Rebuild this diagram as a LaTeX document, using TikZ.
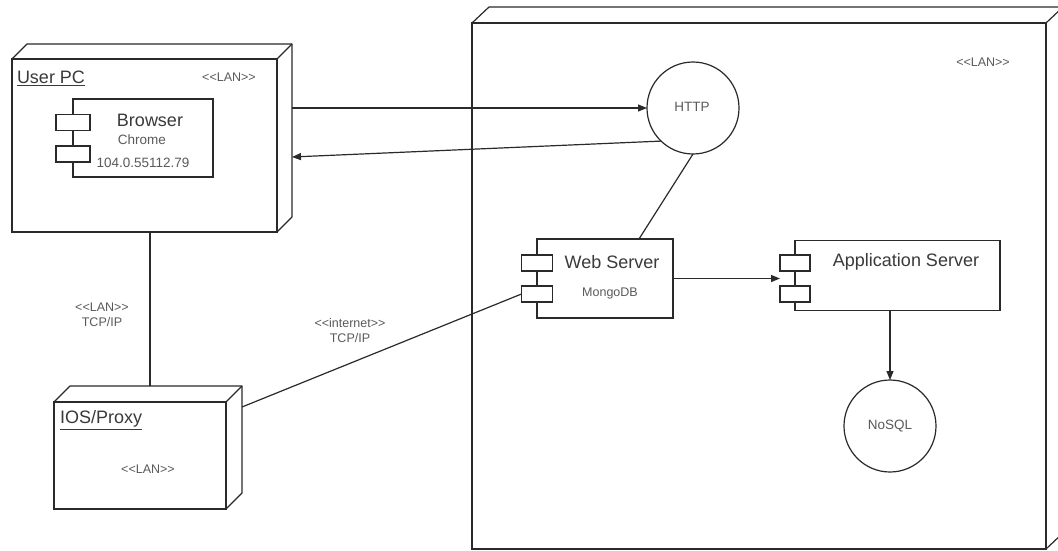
\documentclass[tikz,border=0pt]{standalone}
\usepackage{fontspec}
\setmainfont{Liberation Sans}
\usetikzlibrary{arrows.meta,calc}
\definecolor{linec}{HTML}{2A2A2A}
\definecolor{textc}{HTML}{3A3A3A}
\definecolor{smallc}{HTML}{5A5A5A}
\begin{document}
\begin{tikzpicture}[x=1pt,y=-1pt,
  every node/.style={inner sep=0pt,outer sep=0pt},
  ln/.style={draw=linec,line width=1.2pt},
  face/.style={ln,rectangle,fill=white},
  port/.style={face,minimum height=16pt},
  bigtxt/.style={font=\fontsize{18}{20}\selectfont,text=textc},
  smalltxt/.style={font=\fontsize{12.5}{15}\selectfont,text=smallc,align=center},
  midtxt/.style={font=\fontsize{13.5}{16}\selectfont,text=smallc},
  arr/.style={ln,-{Triangle[length=9pt,width=7pt]}}]
\useasboundingbox (0,0) rectangle (1058,551);
\fill[white] (0,0) rectangle (1058,551);

% ---------- big server node ----------
\node[face,minimum width=574pt,minimum height=526pt] (srv) at (759,286) {};
\draw[ln,line join=round] (srv.north west) -- ++(17,-16) -- ($(srv.north east)+(17,-16)$) -- ($(srv.south east)+(17,-16)$) -- (srv.south east);
\draw[ln] (srv.north east) -- ++(17,-16);
\node[smalltxt] (srvlan) at (983,62) {<{}<LAN>{}>};

% ---------- User PC node ----------
\node[face,minimum width=265pt,minimum height=173pt] (pc) at (144.5,145.5) {};
\draw[ln,line join=round] (pc.north west) -- ++(15,-15) -- ($(pc.north east)+(15,-15)$) -- ($(pc.south east)+(15,-15)$) -- (pc.south east);
\draw[ln] (pc.north east) -- ++(15,-15);
\node[bigtxt,anchor=west] (pcname) at (17,78) {\underline{User PC}};
\node[smalltxt] (pclan) at (229,77) {<{}<LAN>{}>};

% Browser component
\node[face,minimum width=140pt,minimum height=78pt] (br) at (143,138) {};
\node[port,minimum width=34pt] (bp1) at (br.west |- 0,122.5) {};
\node[port,minimum width=34pt] (bp2) at (br.west |- 0,154) {};
\node[bigtxt] (brname) at (150,120) {Browser};
\node[midtxt] (brchrome) at (142,140) {Chrome};
\node[midtxt] (brver) at (143,163) {104.0.55112.79};

% ---------- IOS/Proxy node ----------
\node[face,minimum width=172pt,minimum height=107pt] (ios) at (140,455.5) {};
\draw[ln,line join=round] (ios.north west) -- ++(16,-16) -- ($(ios.north east)+(16,-16)$) -- ($(ios.south east)+(16,-16)$) -- (ios.south east);
\draw[ln] (ios.north east) -- ++(16,-16);
\node[bigtxt,anchor=west] (iosname) at (60,420) {\underline{IOS/Proxy}};
\node[smalltxt] (ioslan) at (148,469) {<{}<LAN>{}>};

% ---------- HTTP / NoSQL ----------
\node[ln,circle,fill=white,minimum size=92pt] (http) at (693,108) {};
\node[midtxt] (httpt) at (692,107) {HTTP};
\node[ln,circle,fill=white,minimum size=92pt] (nosql) at (890,426) {};
\node[midtxt] (nosqlt) at (890,426) {NoSQL};

% ---------- Web Server ----------
\node[face,minimum width=136pt,minimum height=79pt] (web) at (605,278.5) {};
\node[port,minimum width=31pt] (wp1) at (web.west |- 0,263) {};
\node[port,minimum width=31pt] (wp2) at (web.west |- 0,294) {};
\node[bigtxt] (webname) at (612,262) {Web Server};
\node[smalltxt] (webdb) at (610,293) {MongoDB};

% ---------- Application Server ----------
\node[face,minimum width=205pt,minimum height=70pt] (app) at (897.5,275.5) {};
\node[port,minimum width=30pt] (ap1) at (app.west |- 0,263) {};
\node[port,minimum width=30pt] (ap2) at (app.west |- 0,294) {};
\node[bigtxt] (appname) at (906,262) {Application Server};

% ---------- connectors ----------
\coordinate (pcR) at ($(pc.east)+(15,0)$);
\coordinate (pcR2) at ($(pc.east)+(15,11.5)$);
\draw[arr] (pcR |- http.west) -- (http.west);
\draw[arr] (http.226) -- (pcR2);
\draw[ln] (http.south) -- ($(web.north west)!0.75!(web.north east)$);
\draw[arr] (web.east) -- (web.east -| ap1.west);
\draw[arr] (app.south -| nosql.north) -- (nosql.north);
\coordinate (iosT) at ($(ios.north)+(10,-16)$);
\draw[ln] (pc.south -| iosT) -- (iosT);
\coordinate (iosR) at ($(ios.north east)+(16,5)$);
\draw[ln] (iosR) -- (wp2.west);

% labels on connectors
\node[smalltxt] (lanlbl) at (102,315) {<{}<LAN>{}>\\TCP/IP};
\node[smalltxt] (netlbl) at (350,331) {<{}<internet>{}>\\TCP/IP};
\end{tikzpicture}
\end{document}
